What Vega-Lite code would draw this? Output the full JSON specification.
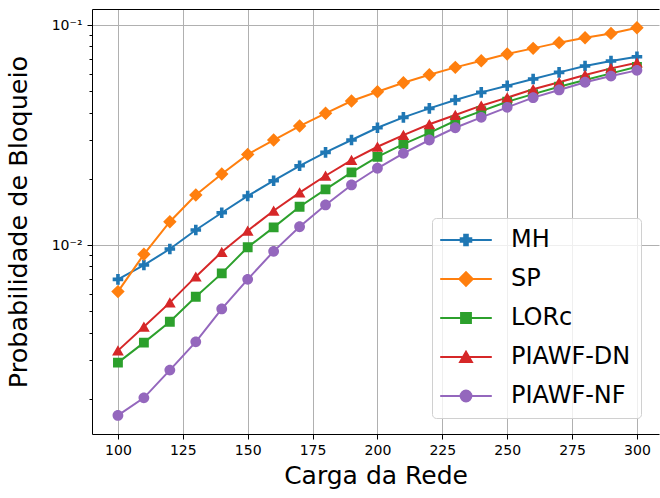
{
  "$schema": "https://vega.github.io/schema/vega-lite/v6.json",
  "width": 567,
  "height": 425,
  "autosize": {"type": "none"},
  "padding": {"left": 92, "top": 9, "right": 1, "bottom": 64},
  "config": {
    "font": "DejaVu Sans",
    "view": {"stroke": null},
    "axis": {"labelFont": "DejaVu Sans", "titleFont": "DejaVu Sans", "labelColor": "black", "titleColor": "black", "titleFontWeight": "normal", "domainColor": "black", "tickColor": "black", "gridColor": "#b0b0b0", "gridWidth": 1},
    "legend": {"orient": "none", "legendX": 340, "legendY": 209, "labelFontSize": 24, "labelFont": "DejaVu Sans", "labelColor": "black",
      "padding": 10, "rowPadding": 15, "symbolSize": 144, "symbolStrokeWidth": 2, "symbolOffset": 12, "labelOffset": 33,
      "strokeColor": "#d0d0d0", "fillColor": "rgba(255,255,255,0.8)", "cornerRadius": 4, "symbolOpacity": 1}
  },
  "data": {"values": [
    {"c":100,"a":"MH","p":0.00698},{"c":110,"a":"MH","p":0.00811},{"c":120,"a":"MH","p":0.00959},{"c":130,"a":"MH","p":0.0117},{"c":140,"a":"MH","p":0.01402},{"c":150,"a":"MH","p":0.01671},{"c":160,"a":"MH","p":0.0196},{"c":170,"a":"MH","p":0.02291},{"c":180,"a":"MH","p":0.02637},{"c":190,"a":"MH","p":0.03002},{"c":200,"a":"MH","p":0.03413},{"c":210,"a":"MH","p":0.03805},{"c":220,"a":"MH","p":0.04181},{"c":230,"a":"MH","p":0.0456},{"c":240,"a":"MH","p":0.04943},{"c":250,"a":"MH","p":0.05297},{"c":260,"a":"MH","p":0.05686},{"c":270,"a":"MH","p":0.06095},{"c":280,"a":"MH","p":0.06511},{"c":290,"a":"MH","p":0.06859},{"c":300,"a":"MH","p":0.07178},
    {"c":100,"a":"SP","p":0.00614},{"c":110,"a":"SP","p":0.00907},{"c":120,"a":"SP","p":0.01276},{"c":130,"a":"SP","p":0.01687},{"c":140,"a":"SP","p":0.02103},{"c":150,"a":"SP","p":0.02582},{"c":160,"a":"SP","p":0.03002},{"c":170,"a":"SP","p":0.03475},{"c":180,"a":"SP","p":0.03969},{"c":190,"a":"SP","p":0.04514},{"c":200,"a":"SP","p":0.04977},{"c":210,"a":"SP","p":0.0547},{"c":220,"a":"SP","p":0.05945},{"c":230,"a":"SP","p":0.06422},{"c":240,"a":"SP","p":0.06883},{"c":250,"a":"SP","p":0.07384},{"c":260,"a":"SP","p":0.07834},{"c":270,"a":"SP","p":0.08318},{"c":280,"a":"SP","p":0.08754},{"c":290,"a":"SP","p":0.09164},{"c":300,"a":"SP","p":0.09727},
    {"c":100,"a":"LORc","p":0.00292},{"c":110,"a":"LORc","p":0.0036},{"c":120,"a":"LORc","p":0.00448},{"c":130,"a":"LORc","p":0.00582},{"c":140,"a":"LORc","p":0.00743},{"c":150,"a":"LORc","p":0.00977},{"c":160,"a":"LORc","p":0.01203},{"c":170,"a":"LORc","p":0.01493},{"c":180,"a":"LORc","p":0.01791},{"c":190,"a":"LORc","p":0.02138},{"c":200,"a":"LORc","p":0.02518},{"c":210,"a":"LORc","p":0.02877},{"c":220,"a":"LORc","p":0.03236},{"c":230,"a":"LORc","p":0.03673},{"c":240,"a":"LORc","p":0.04064},{"c":250,"a":"LORc","p":0.0448},{"c":260,"a":"LORc","p":0.04853},{"c":270,"a":"LORc","p":0.05245},{"c":280,"a":"LORc","p":0.05623},{"c":290,"a":"LORc","p":0.0603},{"c":300,"a":"LORc","p":0.06457},
    {"c":100,"a":"PIAWF-DN","p":0.00331},{"c":110,"a":"PIAWF-DN","p":0.00425},{"c":120,"a":"PIAWF-DN","p":0.00547},{"c":130,"a":"PIAWF-DN","p":0.00718},{"c":140,"a":"PIAWF-DN","p":0.00929},{"c":150,"a":"PIAWF-DN","p":0.01161},{"c":160,"a":"PIAWF-DN","p":0.01432},{"c":170,"a":"PIAWF-DN","p":0.0173},{"c":180,"a":"PIAWF-DN","p":0.02065},{"c":190,"a":"PIAWF-DN","p":0.02434},{"c":200,"a":"PIAWF-DN","p":0.02797},{"c":210,"a":"PIAWF-DN","p":0.03162},{"c":220,"a":"PIAWF-DN","p":0.0354},{"c":230,"a":"PIAWF-DN","p":0.03899},{"c":240,"a":"PIAWF-DN","p":0.043},{"c":250,"a":"PIAWF-DN","p":0.04677},{"c":260,"a":"PIAWF-DN","p":0.05105},{"c":270,"a":"PIAWF-DN","p":0.05495},{"c":280,"a":"PIAWF-DN","p":0.05929},{"c":290,"a":"PIAWF-DN","p":0.06353},{"c":300,"a":"PIAWF-DN","p":0.06745},
    {"c":100,"a":"PIAWF-NF","p":0.00168},{"c":110,"a":"PIAWF-NF","p":0.00202},{"c":120,"a":"PIAWF-NF","p":0.0027},{"c":130,"a":"PIAWF-NF","p":0.00363},{"c":140,"a":"PIAWF-NF","p":0.00512},{"c":150,"a":"PIAWF-NF","p":0.00698},{"c":160,"a":"PIAWF-NF","p":0.00936},{"c":170,"a":"PIAWF-NF","p":0.01211},{"c":180,"a":"PIAWF-NF","p":0.01521},{"c":190,"a":"PIAWF-NF","p":0.01875},{"c":200,"a":"PIAWF-NF","p":0.02233},{"c":210,"a":"PIAWF-NF","p":0.02612},{"c":220,"a":"PIAWF-NF","p":0.03002},{"c":230,"a":"PIAWF-NF","p":0.03413},{"c":240,"a":"PIAWF-NF","p":0.03805},{"c":250,"a":"PIAWF-NF","p":0.04227},{"c":260,"a":"PIAWF-NF","p":0.04677},{"c":270,"a":"PIAWF-NF","p":0.0507},{"c":280,"a":"PIAWF-NF","p":0.05495},{"c":290,"a":"PIAWF-NF","p":0.05861},{"c":300,"a":"PIAWF-NF","p":0.06223}
  ]},
  "resolve": {"axis": {"x": "independent"}},
  "layer": [
    {
      "mark": {"type": "line", "strokeWidth": 2},
      "encoding": {
        "x": {"field": "c", "type": "quantitative", "scale": {"domain": [90, 308.5], "nice": false, "zero": false},
          "axis": {"orient": "bottom", "values": [100,125,150,175,200,225,250,275,300], "title": "Carga da Rede", "titleFontSize": 25, "titlePadding": 6, "labelFontSize": 14, "labelPadding": 4, "tickSize": 5, "grid": true}},
        "y": {"field": "p", "type": "quantitative", "scale": {"type": "log", "domain": [0.001383, 0.1183], "nice": false},
          "axis": {"values": [0.002,0.003,0.004,0.005,0.006,0.007,0.008,0.009,0.01,0.02,0.03,0.04,0.05,0.06,0.07,0.08,0.09,0.1],
            "labelExpr": "abs(datum.value-0.1)<1e-9 ? '10⁻¹' : (abs(datum.value-0.01)<1e-9 ? '10⁻²' : '')",
            "labelOverlap": false, "labelFontSize": 14, "labelPadding": 5,
            "tickSize": {"condition": {"test": "abs(datum.value-0.1)<1e-9 || abs(datum.value-0.01)<1e-9", "value": 5}, "value": 3},
            "gridOpacity": {"condition": {"test": "abs(datum.value-0.1)<1e-9 || abs(datum.value-0.01)<1e-9", "value": 1}, "value": 0},
            "grid": true, "title": "Probabilidade de Bloqueio", "titleFontSize": 25.5, "titlePadding": 20}},
        "stroke": {"field": "a", "type": "nominal", "title": null,
          "scale": {"domain": ["MH","SP","LORc","PIAWF-DN","PIAWF-NF"], "range": ["#1f77b4","#ff7f0e","#2ca02c","#d62728","#9467bd"]},
          "legend": {"labelExpr": "datum.label + ' \u2009'"}}
      }
    },
    {
      "mark": {"type": "point", "filled": true, "opacity": 1, "size": 144},
      "encoding": {
        "x": {"field": "c", "type": "quantitative", "axis": {"orient": "top", "labels": false, "ticks": false, "grid": false, "domain": true, "title": null}},
        "y": {"field": "p", "type": "quantitative"},
        "fill": {"field": "a", "type": "nominal", "title": null,
          "scale": {"domain": ["MH","SP","LORc","PIAWF-DN","PIAWF-NF"], "range": ["#1f77b4","#ff7f0e","#2ca02c","#d62728","#9467bd"]},
          "legend": {"labelExpr": "datum.label + ' \u2009'"}},
        "shape": {"field": "a", "type": "nominal", "title": null,
          "scale": {"domain": ["MH","SP","LORc","PIAWF-DN","PIAWF-NF"], "range": [
            "M-4.3,0H4.3M-0.88,-0.3H-0.3V-0.88H0.3V-0.3H0.88V0.3H0.3V0.88H-0.3V0.3H-0.88Z",
            "M-4.3,0H4.3M0,-1.12L1.12,0L0,1.12L-1.12,0Z",
            "M-4.3,0H4.3M-0.82,-0.82H0.82V0.82H-0.82Z",
            "M-4.3,0H4.3M0,-0.88L0.98,0.82H-0.98Z",
            "M-4.3,0H4.3M-0.9,0A0.9,0.9 0 1,0 0.9,0A0.9,0.9 0 1,0 -0.9,0Z"]},
          "legend": {"labelExpr": "datum.label + ' \u2009'"}}
      }
    }
  ]
}
